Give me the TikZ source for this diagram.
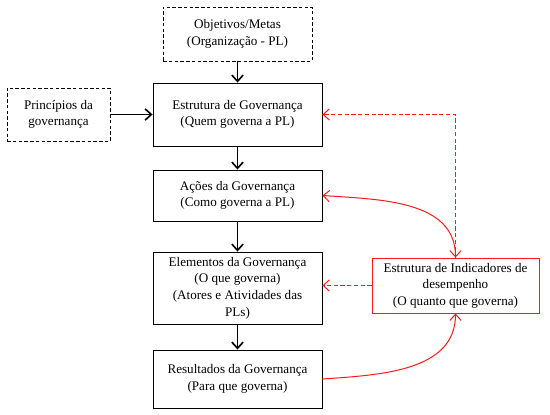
\documentclass[tikz,border=0pt]{standalone}
\usepackage{fontspec}
\setmainfont{Liberation Serif}
\usetikzlibrary{positioning, arrows.meta}
\definecolor{indred}{HTML}{FF1A1A}
\newcommand{\govfont}{\fontsize{10.5}{13.3}\selectfont}
\tikzset{
  govbox/.style={
    draw,
    line width=0.7pt,
    align=center,
    inner sep=2pt,
    minimum width=135.2pt,
    font=\govfont
  },
  dashbox/.style={govbox, dash pattern=on 2.8pt off 1.8pt},
  indbox/.style={govbox, draw=indred, minimum width=133.6pt},
  arr/.style={-{Straight Barb[length=5pt, width=9pt]}, line width=1.3pt},
  redarr/.style={-{Straight Barb[length=5pt, width=9pt]}, line width=0.8pt, indred},
  reddash/.style={redarr, dash pattern=on 3.4pt off 2pt}
}

\begin{document}
\begin{tikzpicture}[x=0.8pt, y=-0.8pt]
  \useasboundingbox (0,0) rectangle (550,415);

  % main column, top to bottom
  \node[dashbox, minimum width=119.2pt, minimum height=43.2pt] (obj) at (237.5,34) {%
    Objetivos/Metas\\(Organização - PL)};
  \node[govbox, minimum height=50.4pt] (est) at (237.5,114.5) {%
    Estrutura de Governança\\(Quem governa a PL)};
  \node[govbox, minimum height=40.8pt] (acoes) at (237.5,195.5) {%
    Ações da Governança\\(Como governa a PL)};
  \node[govbox, minimum height=57.6pt] (elem) at (237.5,288) {%
    Elementos da Governança\\(O que governa)\\(Atores e Atividades das\\PLs)};
  \node[govbox, minimum height=46.4pt] (res) at (237.5,379) {%
    Resultados da Governança\\(Para que governa)};

  % side boxes
  \node[dashbox, minimum width=82.4pt, minimum height=42.4pt] (prin) at (58.5,114.5) {%
    Princípios da\\governança};
  \node[indbox, minimum height=44pt] (ind) at (455.5,285.5) {%
    Estrutura de Indicadores de\\desempenho\\(O quanto que governa)};

  \draw[arr] (obj) -- (est);
  \draw[arr] (prin) -- (est);
  \draw[arr] (est) -- (acoes);
  \draw[arr] (acoes) -- (elem);
  \draw[arr] (elem) -- (res);

  % feedback from the indicators
  \draw[reddash] (ind.north) |- (est.east);
  \draw[reddash] (ind.west) -- (ind.west -| elem.east);
  \draw[redarr, {Straight Barb[length=5pt, width=9pt]}-{Straight Barb[length=5pt, width=9pt]}]
    (acoes.east) to[out=-4, in=90] (ind.north);
  \draw[redarr] (res.east) to[out=4, in=-90] (ind.south);
\end{tikzpicture}
\end{document}
